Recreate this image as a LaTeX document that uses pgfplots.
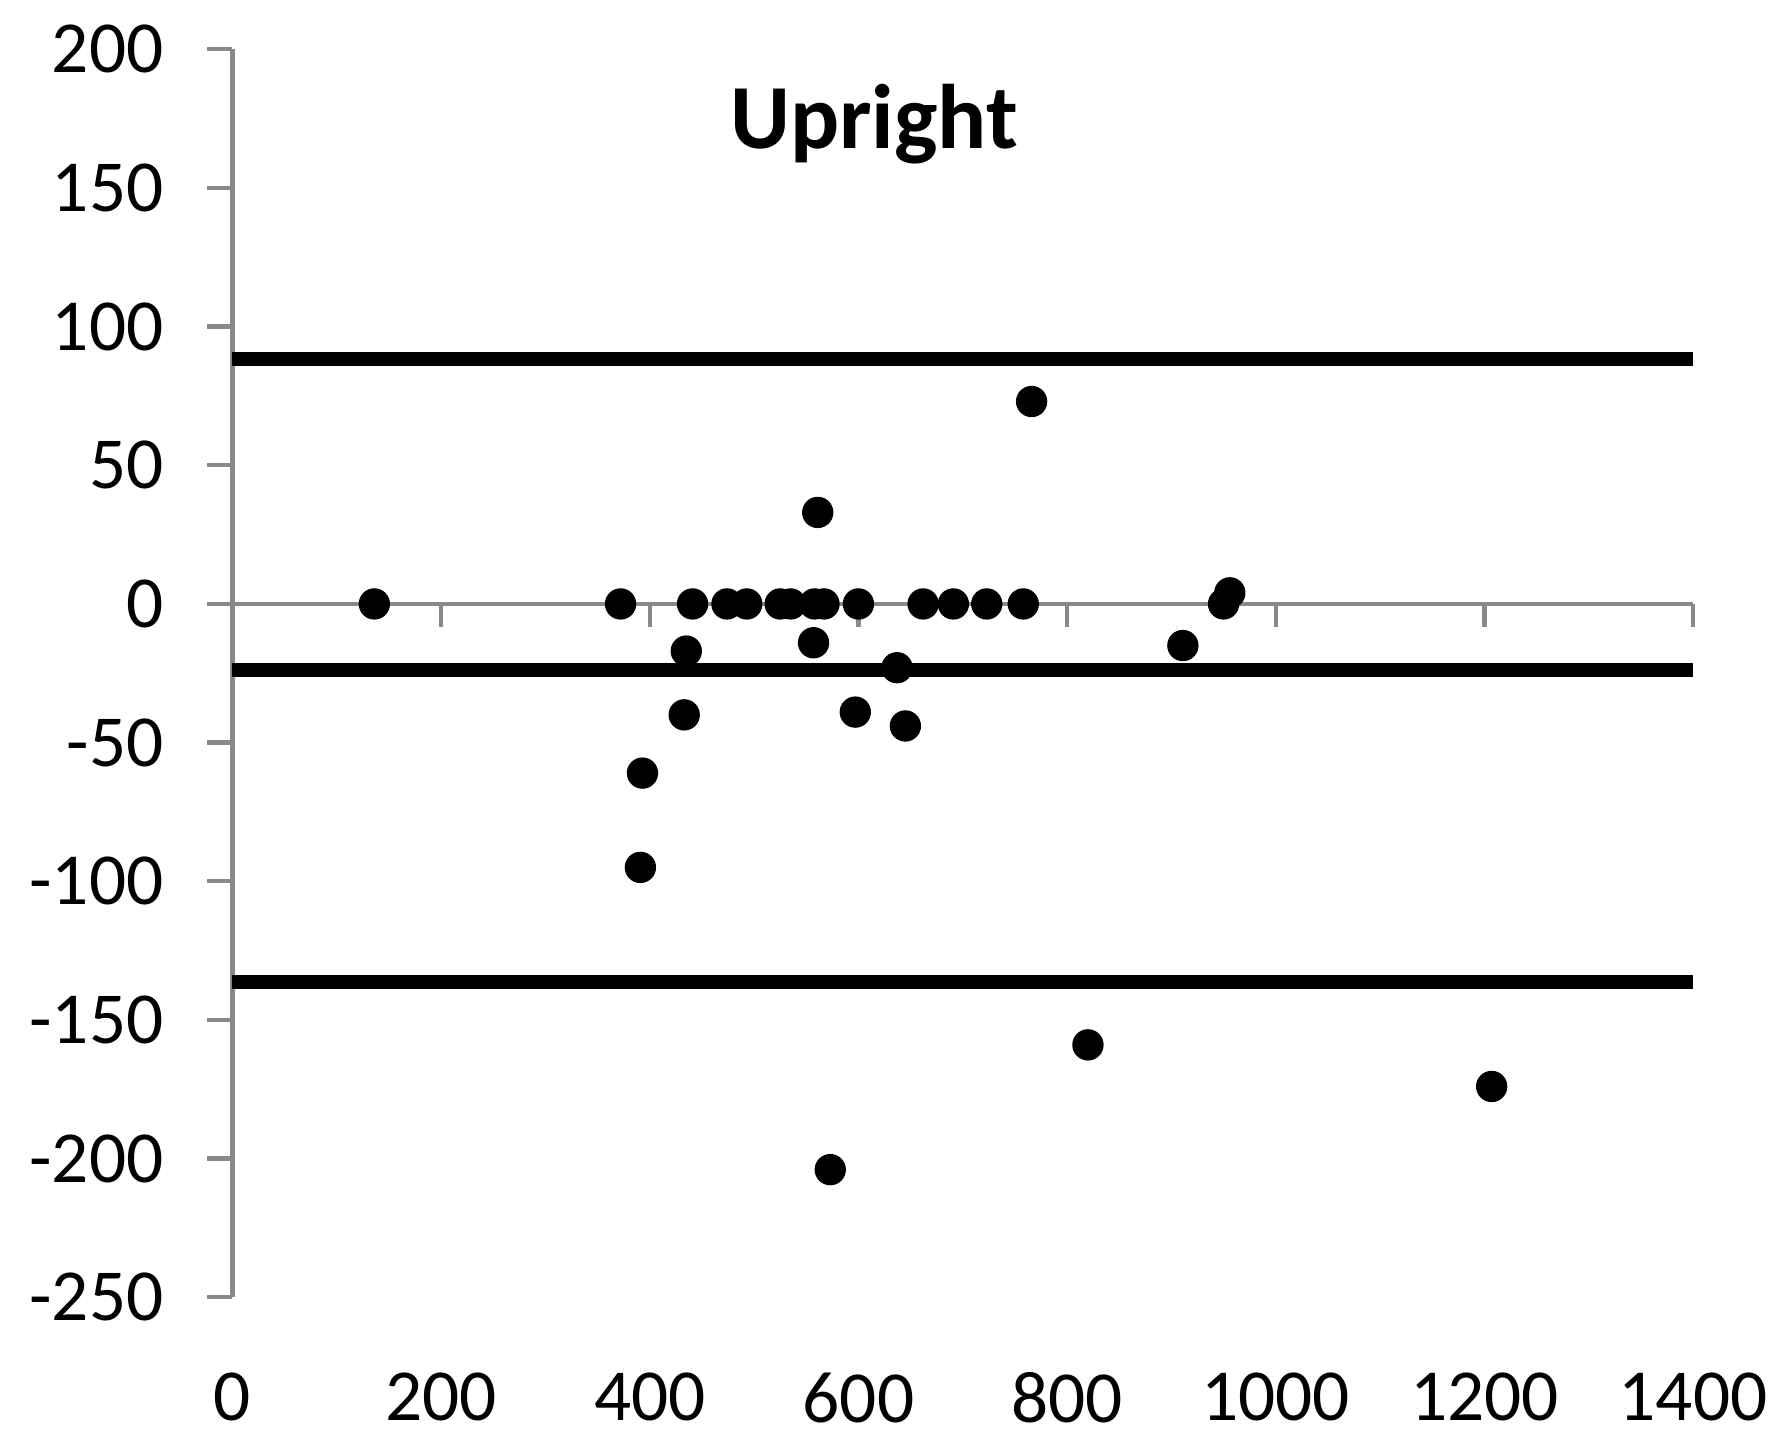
\documentclass[border=0pt]{standalone}
\usepackage{fontspec}
\setmainfont{Carlito}
\usepackage{pgfplots}
\pgfplotsset{compat=1.18}
\definecolor{axisgray}{HTML}{898989}
\begin{document}
\begin{tikzpicture}
\useasboundingbox (-69.75pt,-43.7pt) rectangle (464.9pt,389.2pt);
\begin{axis}[
  at={(0,0)}, anchor=south west,
  scale only axis, width=438.2pt, height=374.4pt,
  xmin=0, xmax=1400, ymin=-250, ymax=200,
  axis lines*=left,
  x axis line style={draw=none},
  y axis line style={draw=axisgray, line width=1.3pt},
  xtick={0,200,400,600,800,1000,1200,1400},
  xticklabels={0,200,400,600,800,1000,1200,1400},
  ytick={-250,-200,-150,-100,-50,0,50,100,150,200},
  yticklabels={-250,-200,-150,-100,-50,0,50,100,150,200},
  tick align=outside,
  major tick length=7.5pt,
  xtick style={draw=none},
  ytick style={draw=axisgray, line width=1.3pt},
  ticklabel style={font=\fontsize{22}{26}\selectfont, inner sep=0pt},
  yticklabel style={anchor=east, xshift=-13pt},
  xticklabel style={anchor=north, yshift=-15pt},
  clip=false,
]
\draw[color=axisgray, line width=1.3pt] (axis cs:0,0) -- (axis cs:1400,0);
\pgfplotsinvokeforeach{200,400,600,800,1000,1200,1400}{
  \draw[color=axisgray, line width=1.3pt] (axis cs:#1,0) -- ++(0pt,-7pt);
}
\addplot[black, line width=4.2pt, no markers] coordinates {(0,88.3) (1400,88.3)};
\addplot[black, line width=4.2pt, no markers] coordinates {(0,-23.8) (1400,-23.8)};
\addplot[black, line width=4.2pt, no markers] coordinates {(0,-136.4) (1400,-136.4)};
\addplot[only marks, mark=*, mark size=4.5pt, black] coordinates {
  (136,0) (372,0) (441,0) (474,0) (493,0) (525,0) (535,0) (558,0) (567,0)
  (600,0) (662,0) (691,0) (723,0) (758,0) (950,0)
  (956,4) (561,33) (766,73) (557,-14) (435,-17) (433,-40) (393,-61)
  (391,-95) (597,-39) (637,-23) (645,-44) (911,-15) (820,-159)
  (1207,-174) (573,-204)
};
\node[font=\bfseries\fontsize{27.5}{31}\selectfont] at (axis cs:615,173) {Upright};
\end{axis}
\end{tikzpicture}
\end{document}
